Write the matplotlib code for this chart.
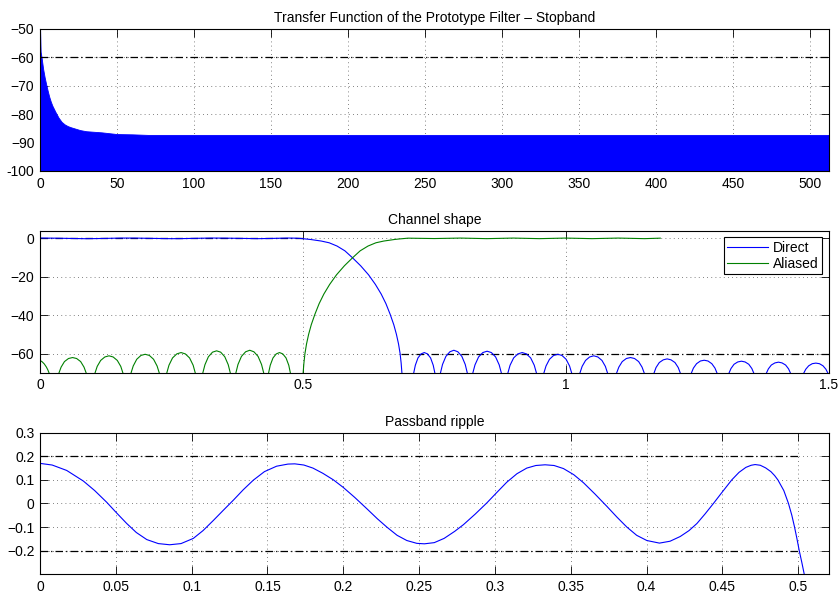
import numpy as np
import matplotlib.pyplot as plt

plt.rcParams['font.family'] = ['Liberation Sans', 'DejaVu Sans']
plt.rcParams['font.size'] = 10

# --- stopband of the prototype filter (upper envelope of the dense trace) ---
stop_f = [0, 0.4, 1, 2, 3, 4, 5, 6, 7, 8, 10, 12, 14, 16, 18, 20, 23, 26, 30,
          35, 40, 45, 50, 60, 70, 100, 200, 300, 400, 512]
stop_env = [-49, -58, -60, -64, -67, -69.5, -71.8, -73.9, -75.6, -77, -79.2,
            -81.2, -82.7, -83.6, -84.2, -84.6, -85.1, -85.6, -86, -86.2, -86.4,
            -86.7, -87, -87.1, -87.3, -87.3, -87.3, -87.3, -87.3, -87.3]
stop_floor = -110

# --- passband ripple (dB) ---
rip_f = [0, 0.008, 0.0176, 0.0286, 0.036, 0.044, 0.0505, 0.0572, 0.0635, 0.0704,
         0.078, 0.0855, 0.093, 0.1011, 0.1075, 0.1143, 0.121, 0.1275, 0.134, 0.1407,
         0.148, 0.156, 0.1635, 0.168, 0.174, 0.18, 0.1865, 0.1935, 0.2, 0.2075,
         0.2155, 0.2225, 0.2287, 0.2355, 0.2419, 0.2485, 0.2535, 0.26, 0.2665, 0.2735,
         0.2792, 0.287, 0.2946, 0.301, 0.3078, 0.3145, 0.321, 0.327, 0.3331, 0.339,
         0.3452, 0.352, 0.3584, 0.366, 0.3738, 0.3805, 0.387, 0.3935, 0.4002, 0.4085,
         0.4155, 0.4222, 0.428, 0.4332, 0.4385, 0.4441, 0.4495, 0.4562, 0.461, 0.4655,
         0.469, 0.4716, 0.475, 0.4785, 0.482, 0.4845, 0.4866, 0.4905, 0.4936, 0.4958,
         0.4976, 0.4992, 0.5007, 0.5024, 0.504, 0.5055]
rip_db = [0.170, 0.163, 0.140, 0.095, 0.055, 0.005, -0.040, -0.085, -0.123, -0.153,
          -0.170, -0.175, -0.170, -0.148, -0.115, -0.072, -0.028, 0.014, 0.058, 0.099,
          0.135, 0.158, 0.167, 0.168, 0.163, 0.150, 0.128, 0.100, 0.068, 0.026,
          -0.022, -0.065, -0.100, -0.135, -0.157, -0.169, -0.171, -0.166, -0.148, -0.118,
          -0.090, -0.045, 0.002, 0.045, 0.090, 0.126, 0.150, 0.161, 0.164, 0.161,
          0.148, 0.122, 0.088, 0.040, -0.012, -0.058, -0.100, -0.135, -0.157, -0.168,
          -0.160, -0.140, -0.115, -0.085, -0.045, 0.000, 0.045, 0.100, 0.132, 0.153,
          0.162, 0.165, 0.162, 0.151, 0.135, 0.118, 0.100, 0.055, 0.000, -0.050,
          -0.100, -0.150, -0.200, -0.250, -0.300, -0.350]

# --- channel shape: direct transition band (after the passband) ---
roll_f = [0.515, 0.525, 0.535, 0.55, 0.565, 0.58, 0.594, 0.61, 0.625, 0.638, 0.649,
          0.658, 0.666, 0.673, 0.678, 0.682, 0.685, 0.687, 0.689]
roll_db = [-0.6, -1.0, -1.4, -2.3, -4.0, -6.5, -10, -14.3, -19, -24, -29, -34, -39.5,
           -45, -50, -55, -60, -65, -72]

# direct stopband side lobes (each list is one lobe)
direct_lobes_f = [
    [0.711, 0.714, 0.719, 0.725, 0.731, 0.737, 0.743, 0.748, 0.751],
    [0.7619, 0.7657, 0.7721, 0.7797, 0.7873, 0.7949, 0.8025, 0.8089, 0.8127],
    [0.8235, 0.8275, 0.8343, 0.8424, 0.8505, 0.8586, 0.8667, 0.8735, 0.8775],
    [0.8902, 0.8942, 0.901, 0.9091, 0.9172, 0.9253, 0.9334, 0.9402, 0.9442],
    [0.9587, 0.9626, 0.9692, 0.9771, 0.985, 0.9929, 1.0008, 1.0074, 1.0112],
    [1.0273, 1.0313, 1.0378, 1.0456, 1.0534, 1.0612, 1.069, 1.0755, 1.0794],
    [1.0971, 1.1011, 1.1076, 1.1154, 1.1232, 1.131, 1.1388, 1.1453, 1.1492],
    [1.1683, 1.1719, 1.1781, 1.1856, 1.193, 1.2004, 1.2079, 1.2141, 1.2178],
    [1.2394, 1.243, 1.249, 1.2563, 1.2635, 1.2707, 1.278, 1.284, 1.2876],
    [1.311, 1.3145, 1.3203, 1.3273, 1.3343, 1.3413, 1.3483, 1.3541, 1.3575],
    [1.3822, 1.3856, 1.3912, 1.398, 1.4048, 1.4116, 1.4184, 1.424, 1.4273],
    [1.4533, 1.4567, 1.4623, 1.4691, 1.4759, 1.4827, 1.4895, 1.4951, 1.4984],
]
direct_lobes_db = [
    [-70, -66.1, -62.3, -60.2, -59.5, -60.2, -62.3, -66.1, -70],
    [-70, -65.7, -61.5, -59.1, -58.3, -59.1, -61.5, -65.7, -70],
    [-70, -65.9, -61.8, -59.5, -58.8, -59.5, -61.8, -65.9, -70],
    [-70, -66.1, -62.3, -60.2, -59.5, -60.2, -62.3, -66.1, -70],
    [-70, -66.5, -63.0, -61.0, -60.4, -61.0, -63.0, -66.5, -70],
    [-70, -66.7, -63.6, -61.8, -61.2, -61.8, -63.6, -66.7, -70],
    [-70, -67.1, -64.2, -62.6, -62.1, -62.6, -64.2, -67.1, -70],
    [-70, -67.3, -64.7, -63.3, -62.8, -63.3, -64.7, -67.3, -70],
    [-70, -67.6, -65.3, -63.9, -63.5, -63.9, -65.3, -67.6, -70],
    [-70, -67.8, -65.6, -64.4, -64.0, -64.4, -65.6, -67.8, -70],
    [-70, -68.0, -66.0, -64.9, -64.5, -64.9, -66.0, -68.0, -70],
    [-70, -68.2, -66.4, -65.3, -65.0, -65.3, -66.4, -68.2, -70],
]

# aliased: side lobes below 0.5, then transition and flat part
alias_lobes_f = [
    [0, 0.004, 0.008, 0.012, 0.015, 0.017],
    [0.0362, 0.0401, 0.0465, 0.0542, 0.0619, 0.0696, 0.0773, 0.0837, 0.0876],
    [0.1048, 0.1088, 0.1154, 0.1233, 0.1312, 0.1391, 0.147, 0.1536, 0.1575],
    [0.1733, 0.1773, 0.184, 0.192, 0.2, 0.208, 0.216, 0.2227, 0.2267],
    [0.2413, 0.2453, 0.2521, 0.2602, 0.2683, 0.2764, 0.2845, 0.2913, 0.2952],
    [0.3098, 0.3138, 0.3203, 0.3281, 0.3359, 0.3437, 0.3515, 0.358, 0.3619],
    [0.3727, 0.3766, 0.3832, 0.3911, 0.399, 0.4069, 0.4148, 0.4214, 0.4254],
    [0.4349, 0.438, 0.4432, 0.4494, 0.4556, 0.4618, 0.468, 0.4732, 0.4762],
]
alias_lobes_db = [
    [-63.6, -64.3, -65.4, -67.0, -68.6, -70],
    [-70, -67.1, -64.2, -62.6, -62.1, -62.6, -64.2, -67.1, -70],
    [-70, -66.7, -63.6, -61.8, -61.2, -61.8, -63.6, -66.7, -70],
    [-70, -66.5, -63.0, -61.0, -60.4, -61.0, -63.0, -66.5, -70],
    [-70, -66.1, -62.3, -60.2, -59.5, -60.2, -62.3, -66.1, -70],
    [-70, -65.8, -61.7, -59.3, -58.6, -59.3, -61.7, -65.8, -70],
    [-70, -65.7, -61.5, -59.1, -58.3, -59.1, -61.5, -65.7, -70],
    [-70, -66.1, -62.3, -60.2, -59.5, -60.2, -62.3, -66.1, -70],
]
alias_f = [0.5, 0.502, 0.504, 0.507, 0.511, 0.516, 0.523, 0.531, 0.54, 0.551, 0.564,
           0.579, 0.595, 0.609, 0.624, 0.639, 0.654, 0.664, 0.674, 0.684, 0.7, 0.75,
           0.8, 0.85, 0.9, 0.95, 1.0, 1.05, 1.1, 1.15, 1.18]
alias_db = [-72, -65, -60, -55, -50, -45, -39.5, -34, -29, -24, -19, -14.3, -10, -6.5,
            -4.0, -2.3, -1.4, -1.0, -0.6, -0.3, 0.1, -0.1, 0.15, -0.15, 0.15, -0.15,
            0.15, -0.15, 0.15, -0.15, 0.1]

stop_spec = -60
ripple_spec = 0.2


def join_lobes(lobes):
    out = []
    for seg in lobes:
        out += list(seg) + [np.nan]
    return np.array(out)


def matlab_style(ax):
    ax.set_axisbelow(True)
    ax.grid(True, color='0.35', linestyle=(0, (1, 4)), linewidth=0.6)
    ax.tick_params(direction='in', length=5.5, width=0.6, top=True, right=True,
                   pad=4, labelsize=10)
    for s in ax.spines.values():
        s.set_linewidth(0.8)
        s.set_color('k')


dashdot = dict(color='k', linewidth=0.9, linestyle=(0, (6, 2.5, 1, 2.5)))
blue = (0, 0, 1)
green = (0, 0.5, 0)

fig = plt.figure(figsize=(8.39, 5.97), dpi=100)
ax1 = fig.add_axes([0.0477, 0.7136, 0.9398, 0.2379])
ax2 = fig.add_axes([0.0477, 0.3757, 0.9398, 0.2379])
ax3 = fig.add_axes([0.0477, 0.0385, 0.9398, 0.2367])

# top: stopband
ax1.fill_between(stop_f, stop_env, stop_floor, color=blue, linewidth=0.6,
                 edgecolor=blue)
ax1.plot([0, 512], [stop_spec, stop_spec], **dashdot)
ax1.set_xlim(0, 512)
ax1.set_ylim(-100, -50)
ax1.set_xticks(np.arange(0, 501, 50))
ax1.set_yticks([-100, -90, -80, -70, -60, -50])
ax1.set_yticklabels(['-100', '\u221290', '\u221280', '\u221270', '\u221260', '\u221250'])
ax1.set_title('Transfer Function of the Prototype Filter \u2013 Stopband', fontsize=10, pad=5)
matlab_style(ax1)

# middle: channel shape
rip_f_arr = np.array(rip_f)
rip_db_arr = np.array(rip_db)
keep = rip_f_arr <= 0.5045
direct_f = np.concatenate([rip_f_arr[keep], roll_f, [np.nan], join_lobes(direct_lobes_f)])
direct_db = np.concatenate([rip_db_arr[keep], roll_db, [np.nan], join_lobes(direct_lobes_db)])
aliased_f = np.concatenate([join_lobes(alias_lobes_f), alias_f])
aliased_db = np.concatenate([join_lobes(alias_lobes_db), alias_db])

ax2.plot([0, 0.5], [0, 0], **dashdot)
ax2.plot([0.686, 1.5], [stop_spec, stop_spec], **dashdot)
ax2.plot(direct_f, direct_db, color=blue, linewidth=0.8, label='Direct')
ax2.plot(aliased_f, aliased_db, color=green, linewidth=0.8, label='Aliased')
ax2.set_xlim(0, 1.5)
ax2.set_ylim(-70, 4)
ax2.set_xticks([0, 0.5, 1, 1.5])
ax2.set_xticklabels(['0', '0.5', '1', '1.5'])
ax2.set_yticks([-60, -40, -20, 0])
ax2.set_title('Channel shape', fontsize=10, pad=5)
matlab_style(ax2)
leg = ax2.legend(loc='upper right', bbox_to_anchor=(0.992, 0.954), borderaxespad=0,
                 fancybox=False, framealpha=1, edgecolor='k', fontsize=10,
                 handlelength=2.9, handletextpad=0.4, labelspacing=0.15,
                 borderpad=0.25)
leg.get_frame().set_linewidth(0.8)

# bottom: passband ripple
ax3.plot([0, 0.5], [ripple_spec, ripple_spec], **dashdot)
ax3.plot([0, 0.5], [-ripple_spec, -ripple_spec], **dashdot)
ax3.plot(rip_f, rip_db, color=blue, linewidth=0.8)
ax3.set_xlim(0, 0.52)
ax3.set_ylim(-0.299, 0.3)
ax3.set_xticks(np.arange(0, 0.501, 0.05))
ax3.set_xticklabels(['0', '0.05', '0.1', '0.15', '0.2', '0.25', '0.3', '0.35',
                     '0.4', '0.45', '0.5'])
ax3.set_yticks([-0.2, -0.1, 0, 0.1, 0.2, 0.3])
ax3.set_yticklabels(['\u22120.2', '\u22120.1', '0', '0.1', '0.2', '0.3'])
ax3.set_title('Passband ripple', fontsize=10, pad=5)
matlab_style(ax3)

fig.savefig('out.png', dpi=100, facecolor='white')
